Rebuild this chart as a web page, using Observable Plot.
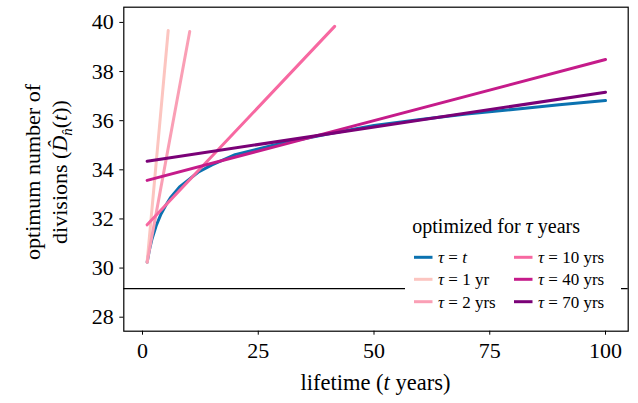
<!DOCTYPE html>
<html><head><meta charset="utf-8">
<script src="https://cdn.jsdelivr.net/npm/d3@7"></script>
<script src="https://cdn.jsdelivr.net/npm/@observablehq/plot@0.6"></script>
<style>body{margin:0;background:#fff} svg{display:block}</style>
</head><body><div id="chart"></div>
<script>
// optimum D for tau = t (curve)
const optT = [1, 1.5, 2, 3, 4, 5, 6, 8, 10, 12, 15, 20, 25, 30, 40, 50, 60, 70, 80, 90, 100];
const optD = [30.24, 30.75, 31.15, 31.75, 32.2, 32.55, 32.85, 33.3, 33.6, 33.9, 34.2, 34.62, 34.85, 35.08, 35.46, 35.8, 36.05, 36.27, 36.46, 36.65, 36.82];
// lines optimized for fixed tau
const tau1T = [1, 5.55],  tau1D = [30.24, 39.67];
const tau2T = [1, 10.2],  tau2D = [30.24, 39.63];
const tau10T = [1, 41.5], tau10D = [31.76, 39.84];
const tau40T = [1, 100],  tau40D = [33.57, 38.49];
const tau70T = [1, 100],  tau70D = [34.35, 37.16];
const baselineD = 29.16;

const seriesKeys = ["t", "1", "2", "10", "40", "70"];
const seriesLegend = ["t", "1 yr", "2 yrs", "10 yrs", "40 yrs", "70 yrs"];
const seriesColors = ["#0b72b0", "#fcc5c0", "#fa9fb5", "#f768a1", "#c51b8a", "#7a0177"];
const seriesT = [optT, tau1T, tau2T, tau10T, tau40T, tau70T];
const seriesD = [optD, tau1D, tau2D, tau10D, tau40D, tau70D];

const xTicks = [0, 25, 50, 75, 100];
const yTicks = [28, 30, 32, 34, 36, 38, 40];

const rows = [];
seriesKeys.forEach((k, i) => seriesT[i].forEach((t, j) => rows.push({s: k, t, D: seriesD[i][j]})));
const colorOf = Object.fromEntries(seriesKeys.map((k, i) => [k, seriesColors[i]]));

const FONT = "'Liberation Serif', 'Times New Roman', serif";
const W = 638, H = 403, mL = 123.3, mR = 10.3, mT = 6.7, mB = 72.3;

const chart = Plot.plot({
  width: W, height: H,
  marginLeft: mL, marginRight: mR, marginTop: mT, marginBottom: mB,
  style: {fontFamily: FONT, fontSize: "22px", background: "white", color: "black"},
  x: {domain: [-4.04, 104.9]},
  y: {domain: [27.43, 40.62]},
  marks: [
    Plot.ruleY([baselineD], {stroke: "black", strokeWidth: 1.3}),
    Plot.line(rows, {x: "t", y: "D", z: "s", stroke: d => colorOf[d.s], strokeWidth: 3, curve: "linear"}),
    Plot.frame({stroke: "black", strokeWidth: 1.2}),
    Plot.axisX({ticks: xTicks, tickSize: 4, tickPadding: 7, label: null, fontSize: 22, tickFormat: d => String(d)}),
    Plot.axisY({ticks: yTicks, tickSize: 4, tickPadding: 6, label: null, fontSize: 22, tickFormat: d => String(d)})
  ]
});
document.getElementById("chart").appendChild(chart);

const svg = d3.select(chart);
// x label
const xl = svg.append("text").attr("x", (mL + W - mR) / 2).attr("y", 390)
  .attr("text-anchor", "middle").attr("font-size", 22.5).attr("font-family", FONT).attr("fill", "black");
xl.append("tspan").text("lifetime (");
xl.append("tspan").attr("font-style", "italic").text("t");
xl.append("tspan").text(" years)");

// y label
const yc = 172;
svg.append("text").attr("transform", `translate(40,${yc}) rotate(-90)`)
  .attr("text-anchor", "middle").attr("font-size", 22).attr("font-family", FONT).attr("fill", "black")
  .text("optimum number of");
const yl = svg.append("text").attr("transform", `translate(67,${yc}) rotate(-90)`)
  .attr("text-anchor", "middle").attr("font-size", 22).attr("font-family", FONT).attr("fill", "black");
yl.append("tspan").text("divisions (");
yl.append("tspan").attr("font-style", "italic").text("D\u0302");
yl.append("tspan").attr("font-style", "italic").attr("font-size", 15).attr("dy", 5).text("n\u0302");
yl.append("tspan").attr("dy", -5).text("(");
yl.append("tspan").attr("font-style", "italic").text("t");
yl.append("tspan").text("))");

// legend
const lg = svg.append("g").attr("font-family", FONT).attr("fill", "black").attr("text-anchor", "start");
lg.append("rect").attr("x", 405).attr("y", 210).attr("width", 216).attr("height", 103).attr("fill", "white");
const lt = lg.append("text").attr("x", 412.3).attr("y", 232.7).attr("font-size", 20).attr("text-anchor", "start");
lt.append("tspan").text("optimized for ");
lt.append("tspan").attr("font-style", "italic").text("τ");
lt.append("tspan").text(" years");
const rowY = [257.3, 279.3, 301.7];
const colX = [414, 514];
seriesKeys.forEach((k, i) => {
  const c = Math.floor(i / 3), r = i % 3;
  const x0 = colX[c], y0 = rowY[r];
  lg.append("line").attr("x1", x0).attr("x2", x0 + 18.5).attr("y1", y0).attr("y2", y0)
    .attr("stroke", seriesColors[i]).attr("stroke-width", 3);
  const t = lg.append("text").attr("x", x0 + 24).attr("y", y0 + 6).attr("font-size", 17).attr("text-anchor", "start");
  t.append("tspan").attr("font-style", "italic").text("τ");
  t.append("tspan").text(" = ");
  if (i === 0) t.append("tspan").attr("font-style", "italic").text(seriesLegend[i]);
  else t.append("tspan").text(seriesLegend[i]);
});
</script>
</body></html>
